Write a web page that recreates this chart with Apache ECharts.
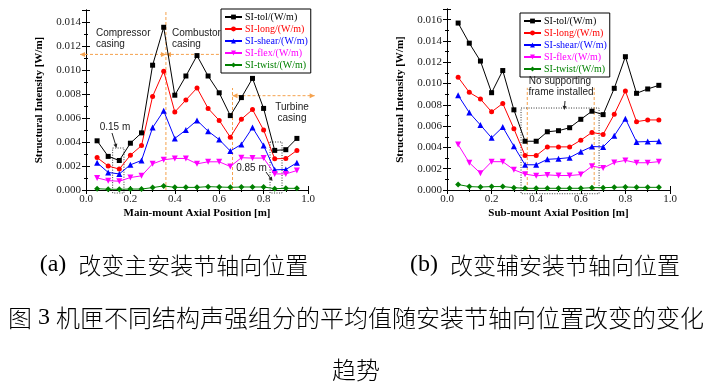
<!DOCTYPE html>
<html><head><meta charset="utf-8">
<script src="https://cdn.jsdelivr.net/npm/echarts@6/dist/echarts.min.js"></script>
<style>html,body{margin:0;padding:0;background:#fff}#c{width:711px;height:384px}</style>
</head><body><div id="c"></div>
<script>
const xs = [0.05,0.10,0.15,0.20,0.25,0.30,0.35,0.40,0.45,0.50,0.55,0.60,0.65,0.70,0.75,0.80,0.85,0.90,0.95];
const seriesNames = ['SI-tol/(W/m)','SI-long/(W/m)','SI-shear/(W/m)','SI-flex/(W/m)','SI-twist/(W/m)'];
const mainTol   = [0.0041,0.0028,0.00246,0.0039,0.00476,0.0104,0.01356,0.0079,0.0095,0.0112,0.0095,0.0081,0.0062,0.0077,0.0093,0.0068,0.0033,0.00336,0.0043];
const mainLong  = [0.0027,0.0020,0.00174,0.0029,0.0037,0.0078,0.0099,0.0065,0.0075,0.0085,0.0068,0.0058,0.0044,0.0059,0.0067,0.0050,0.0026,0.00263,0.0033];
const mainShear = [0.00227,0.00146,0.00134,0.0021,0.00246,0.0052,0.0066,0.0043,0.0050,0.0058,0.0049,0.0042,0.00325,0.0038,0.0052,0.0037,0.00168,0.00171,0.00227];
const mainFlex  = [0.00101,0.00078,0.00073,0.00104,0.00118,0.00218,0.00252,0.00263,0.00263,0.00218,0.00235,0.00235,0.00196,0.00269,0.00266,0.00266,0.00134,0.00134,0.00162];
const mainTwist = [0.00011,0.00006,0.00006,0.00008,0.00008,0.0002,0.00034,0.00022,0.00022,0.00022,0.00028,0.00025,0.00022,0.00025,0.00025,0.00025,0.00011,0.00014,0.00014];
const subTol   = [0.01568,0.01379,0.01211,0.00914,0.01122,0.00753,0.00458,0.00458,0.00547,0.00557,0.00585,0.00664,0.0074,0.00708,0.00955,0.01252,0.00908,0.00949,0.00983];
const subLong  = [0.01059,0.00917,0.00854,0.00734,0.00813,0.00575,0.00323,0.00323,0.00405,0.00405,0.00405,0.00468,0.00541,0.00522,0.00711,0.0093,0.00642,0.00658,0.00658];
const subShear = [0.00889,0.00727,0.0061,0.0049,0.00591,0.00411,0.00237,0.00237,0.00288,0.00294,0.00304,0.0036,0.00408,0.00405,0.00509,0.0067,0.00452,0.00455,0.00458];
const subFlex  = [0.00427,0.00256,0.00158,0.00266,0.00266,0.0019,0.00149,0.00133,0.00142,0.00136,0.00136,0.00145,0.00224,0.00206,0.00259,0.00278,0.00256,0.00256,0.00266];
const subTwist = [0.00051,0.00032,0.00028,0.00032,0.00032,0.00022,0.00016,0.00016,0.00016,0.00016,0.00016,0.00016,0.00022,0.00022,0.00025,0.00028,0.00025,0.00025,0.00025];
const xTitles = ['Main-mount Axial Position [m]','Sub-mount Axial Position [m]'];
const yTitle = 'Structural Intensity [W/m]';
const yMax = [0.015, 0.017];

const colors = ['#000000','#ff0000','#0000ff','#ff00ff','#008000'];
const symbols = ['rect','circle','triangle','triangle','diamond'];
const symRot = [0,0,0,180,0];
const symSize = [5,5,6,6,6];
const SERIF = 'Liberation Serif';
const SANS = 'Liberation Sans';

const chart = echarts.init(document.getElementById('c'));
const grids = [
  {left:86, top:10, width:222, height:180},
  {left:447, top:9, width:223, height:181}
];
const xAxes = [], yAxes = [], series = [], legends = [];
[0,1].forEach(g => {
  const common = {min:0, max:1, interval:0.2, type:'value', gridIndex:g,
    axisLine:{show:true, lineStyle:{color:'#000', width:1}},
    axisTick:{show:true, inside:true, length:4, lineStyle:{color:'#000'}},
    minorTick:{show:true, splitNumber:2, length:2, lineStyle:{color:'#000'}},
    splitLine:{show:false}};
  xAxes.push(Object.assign({}, common, {position:'bottom',
    name:xTitles[g], nameLocation:'middle', nameGap:18,
    nameTextStyle:{fontFamily:SERIF, fontWeight:'bold', fontSize:11, color:'#000'},
    axisLabel:{fontFamily:SERIF, fontSize:11, color:'#222', margin:4, formatter:v=>v.toFixed(1)}}));
  xAxes.push(Object.assign({}, common, {position:'top', axisLabel:{show:false}}));
  const ycommon = {min:0, max:yMax[g], interval:0.002, type:'value', gridIndex:g,
    axisLine:{show:true, lineStyle:{color:'#000', width:1}},
    axisTick:{show:true, inside:true, length:4, lineStyle:{color:'#000'}},
    minorTick:{show:true, splitNumber:2, length:2, lineStyle:{color:'#000'}},
    splitLine:{show:false}};
  yAxes.push(Object.assign({}, ycommon, {position:'left',
    name:yTitle, nameLocation:'middle', nameGap:41, nameRotate:90,
    nameTextStyle:{fontFamily:SERIF, fontWeight:'bold', fontSize:11, color:'#000'},
    axisLabel:{fontFamily:SERIF, fontSize:11, color:'#222', margin:5, showMaxLabel:false,
      formatter:v=>v.toFixed(3)}}));
  yAxes.push(Object.assign({}, ycommon, {position:'right', axisLabel:{show:false}}));
});
const mainData = [mainTol, mainLong, mainShear, mainFlex, mainTwist];
const subData = [subTol, subLong, subShear, subFlex, subTwist];
[mainData, subData].forEach((set, g) => {
  set.forEach((arr, i) => {
    series.push({type:'line', name:seriesNames[i], xAxisIndex:2*g, yAxisIndex:2*g,
      data: xs.map((x,k)=>[x, arr[k]]),
      symbol:symbols[i], symbolRotate:symRot[i], symbolSize:symSize[i],
      itemStyle:{color:colors[i]}, lineStyle:{color:colors[i], width:1},
      emphasis:{disabled:true}, animation:false, z:3});
  });
});
const legPos = [{left:221, top:9}, {left:520, top:13}];
[0,1].forEach(g => {
  legends.push(Object.assign({orient:'vertical', itemWidth:17, itemHeight:6, itemGap:0,
    padding:[2,3,2,3], backgroundColor:'#fff', borderColor:'#000', borderWidth:1,
    textStyle:{fontFamily:SERIF, fontSize:10, lineHeight:12, padding:[0,0,0,-2]},
    selectedMode:false, z:5,
    data: seriesNames.map((n,i)=>({name:n, textStyle:{color:colors[i]}}))}, legPos[g]));
});

chart.setOption({
  animation:false,
  grid: grids,
  xAxis: xAxes, yAxis: yAxes, series, legend: legends
});

function P(si, x, y){ return chart.convertToPixel({seriesIndex: si}, [x, y]); }
function head(b, a, color, L, W){
  L = L||5; W = W||2.5;
  const dx=b[0]-a[0], dy=b[1]-a[1], len=Math.hypot(dx,dy), ux=dx/len, uy=dy/len, px=-uy, py=ux;
  return {type:'polygon', silent:true, z:1,
    shape:{points:[[b[0],b[1]],[b[0]-ux*L+px*W, b[1]-uy*L+py*W],[b[0]-ux*L-px*W, b[1]-uy*L-py*W]]},
    style:{fill:color}};
}
function line(a, b, color, dash, w){
  return {type:'line', silent:true, z:1, shape:{x1:a[0], y1:a[1], x2:b[0], y2:b[1]},
    style:{stroke:color, lineWidth:w||1, lineDash:dash||null}};
}
function dbl(a, b, color){
  return [line(a,b,color,[3,2]), head(a,b,color), head(b,a,color)];
}
function box(si, x1, y1, x2, y2){
  const a = P(si,x1,y2), b = P(si,x2,y1);
  return {type:'rect', silent:true, z:1, shape:{x:a[0], y:a[1], width:b[0]-a[0], height:b[1]-a[1]},
    style:{fill:null, stroke:'#333', lineWidth:1, lineDash:[1,1.5]}};
}
function txt(x, y, s, align){
  return {type:'text', silent:true, z:6, x:x, y:y,
    style:{text:s, fontFamily:SANS, fontSize:10, fill:'#222', align:align||'left', verticalAlign:'middle'}};
}
const OR = '#f5a24e';
const gfx = [];
// left chart annotations
gfx.push(line(P(0,0.36,0), P(0,0.36,0.015), OR, [3,2]));
gfx.push(line(P(0,0.66,0), P(0,0.66,0.0085), OR, [3,2]));
gfx.push(...dbl(P(0,-0.027,0.0113), P(0,0.36,0.0113), OR));
gfx.push(...dbl(P(0,0.36,0.0113), P(0,0.66,0.0113), OR));
gfx.push(...dbl(P(0,0.66,0.00786), P(0,1.03,0.00786), OR));
gfx.push(txt(96,33,'Compressor'), txt(96,44,'casing'));
gfx.push(txt(172,33,'Combustor'), txt(172,44,'casing'));
gfx.push(txt(292,107,'Turbine','center'), txt(292,118,'casing','center'));
gfx.push(txt(115,127,'0.15 m','center'));
gfx.push(line([112,133],[116,146],'#222'), head([116.5,148],[112,133],'#222',4,2));
gfx.push(box(0,0.12,-0.00025,0.171,0.0035));
gfx.push(txt(251.5,168,'0.85 m','center'));
gfx.push(line([266,172],[271,179],'#222'), head([272.5,181],[266,172],'#222',4,2));
gfx.push(box(0,0.829,-0.00025,0.883,0.004));
// right chart annotations
gfx.push(line(P(5,0.36,0), P(5,0.36,0.0096), OR, [3,2]));
gfx.push(line(P(5,0.66,0), P(5,0.66,0.0096), OR, [3,2]));
gfx.push(box(5,0.332,-0.00035,0.682,0.0077));
gfx.push(txt(560,81,'No supporting','center'), txt(561,92,'frame installed','center'));
gfx.push(line([565,101],[564.5,107],'#222'), head([564.3,110],[565,101],'#222',4,2));
// captions
const cap = (x, y, rich, align) => ({type:'text', silent:true, x:x, y:y,
  style:{rich:rich.r, text:rich.t, align:align||'center', verticalAlign:'middle'}});
const richStyles = {s:{fontFamily:SERIF, fontSize:24, fill:'#000'}, c:{fontFamily:'Noto Sans CJK SC', fontSize:23, fontWeight:300, fill:'#000'},
  d:{fontFamily:'Noto Sans CJK SC', fontSize:24, fontWeight:300, fill:'#000'}, n:{fontFamily:SERIF, fontSize:24, fill:'#000'}};
gfx.push(cap(174, 265, {r:richStyles, t:'{s|(a)  }{c|改变主安装节轴向位置}'}));
gfx.push(cap(545, 265, {r:richStyles, t:'{s|(b)  }{c|改变辅安装节轴向位置}'}));
gfx.push(cap(356, 318, {r:richStyles, t:'{d|图}{n| 3 }{d|机匣不同结构声强组分的平均值随安装节轴向位置改变的变化}'}));
gfx.push(cap(356, 370, {r:richStyles, t:'{d|趋势}'}));
chart.setOption({graphic: gfx});
</script></body></html>
